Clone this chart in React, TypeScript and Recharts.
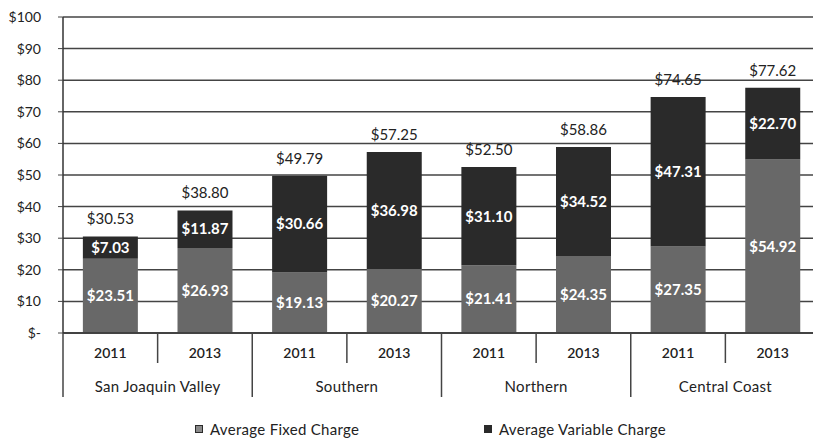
import { Bar, BarChart, CartesianGrid, LabelList, Legend, XAxis, YAxis } from "recharts";

const regions = ["San Joaquin Valley", "Southern", "Northern", "Central Coast"];
const years = ["2011", "2013", "2011", "2013", "2011", "2013", "2011", "2013"];
const fixedCharge = [23.51, 26.93, 19.13, 20.27, 21.41, 24.35, 27.35, 54.92];
const variableCharge = [7.03, 11.87, 30.66, 36.98, 31.1, 34.52, 47.31, 22.7];
const totals = [30.53, 38.8, 49.79, 57.25, 52.5, 58.86, 74.65, 77.62];
const yTicks = [0, 10, 20, 30, 40, 50, 60, 70, 80, 90, 100];
const minorTicks = Array.from({ length: 101 }, (_, i) => i);

const data = years.map((year, i) => ({
  key: `${regions[Math.floor(i / 2)]}-${year}`,
  year,
  region: regions[Math.floor(i / 2)],
  fixed: fixedCharge[i],
  variable: variableCharge[i],
  total: totals[i],
}));

const FONT = "Lato, 'Open Sans', sans-serif";
const FIXED = "#686868";
const VARIABLE = "#2a2a2a";
const INK = "#222";

const money = (v: number) => `$${Number(v).toFixed(2)}`;

function CategoryTick(props: any) {
  const { x, y, payload, width } = props;
  const i = payload.index;
  const band = (width ?? 757) / data.length;
  const left = x - band / 2;
  return (
    <g>
      <line x1={left} y1={y} x2={left} y2={y + (i % 2 === 0 ? 64 : 30)} stroke="#444" strokeWidth={1.5} />
      <text x={x} y={y + 25} textAnchor="middle" fontFamily={FONT} fontSize={14} fontWeight={600} fill={INK}>
        {data[i].year}
      </text>
      {i % 2 === 0 && (
        <text
          x={x + band / 2}
          y={y + 59}
          textAnchor="middle"
          fontFamily={FONT}
          fontSize={15}
          letterSpacing={0.3}
          fill={INK}
        >
          {data[i].region}
        </text>
      )}
    </g>
  );
}

function MinorTick(props: any) {
  const { x, y } = props;
  return <line x1={x} y1={y} x2={x + 4} y2={y} stroke="#777" strokeWidth={1} />;
}

function TotalLabel(props: any) {
  const { x, y, width, index } = props;
  return (
    <text x={x + width / 2} y={y - 12} textAnchor="middle" fontFamily={FONT} fontSize={15} fill={INK}>
      {money(totals[index])}
    </text>
  );
}

function ChartLegend() {
  const item = (left: number, label: string, light: boolean) => (
    <span style={{ position: "absolute", left, bottom: 0, display: "flex", alignItems: "center", gap: 7 }}>
      <span
        style={{
          width: 6,
          height: 6,
          background: light ? "#8a8a8a" : VARIABLE,
          border: `1.5px solid ${VARIABLE}`,
          display: "inline-block",
        }}
      />
      <span>{label}</span>
    </span>
  );
  return (
    <div
      style={{
        position: "relative",
        height: 30,
        fontFamily: FONT,
        fontSize: 15,
        letterSpacing: 0.3,
        color: INK,
      }}
    >
      {item(195, "Average Fixed Charge", true)}
      {item(484, "Average Variable Charge", false)}
    </div>
  );
}

export default function App() {
  return (
    <div style={{ width: 813, height: 438, background: "#fff", overflow: "hidden" }}>
      <style>{`body{margin:0}`}</style>
      <BarChart
        width={813}
        height={438}
        data={data}
        barCategoryGap="21%"
        margin={{ top: 17, right: -7, left: 0, bottom: 0 }}
      >
        <CartesianGrid vertical={false} stroke="#444" strokeWidth={1.5} />
        <XAxis
          dataKey="key"
          interval={0}
          height={75}
          tickLine={false}
          tickSize={0}
          tickMargin={0}
          axisLine={{ stroke: "#333", strokeWidth: 1.5 }}
          tick={<CategoryTick />}
        />
        <YAxis
          domain={[0, 100]}
          ticks={yTicks}
          width={63}
          interval={0}
          tickSize={5}
          tickMargin={17}
          axisLine={{ stroke: "#333", strokeWidth: 1.5 }}
          tickLine={{ stroke: "#444" }}
          tickFormatter={(v: number) => (v === 0 ? "$-" : `$${v}`)}
          tick={{ fontFamily: FONT, fontSize: 14, fill: INK }}
        />
        <YAxis
          yAxisId="minor"
          domain={[0, 100]}
          ticks={minorTicks}
          interval={0}
          width={0}
          mirror
          tickSize={0}
          axisLine={false}
          tickLine={false}
          tick={<MinorTick />}
        />
        <Legend verticalAlign="bottom" content={<ChartLegend />} />
        <Bar dataKey="fixed" stackId="a" fill={FIXED} isAnimationActive={false}>
          <LabelList
            dataKey="fixed"
            position="center"
            formatter={(v: any) => money(v)}
            fill="#fff"
            fontFamily={FONT}
            fontSize={15}
            fontWeight={700}
          />
        </Bar>
        <Bar dataKey="variable" stackId="a" fill={VARIABLE} isAnimationActive={false}>
          <LabelList
            dataKey="variable"
            position="center"
            formatter={(v: any) => money(v)}
            fill="#fff"
            fontFamily={FONT}
            fontSize={15}
            fontWeight={700}
          />
          <LabelList dataKey="total" content={<TotalLabel />} />
        </Bar>
      </BarChart>
    </div>
  );
}
